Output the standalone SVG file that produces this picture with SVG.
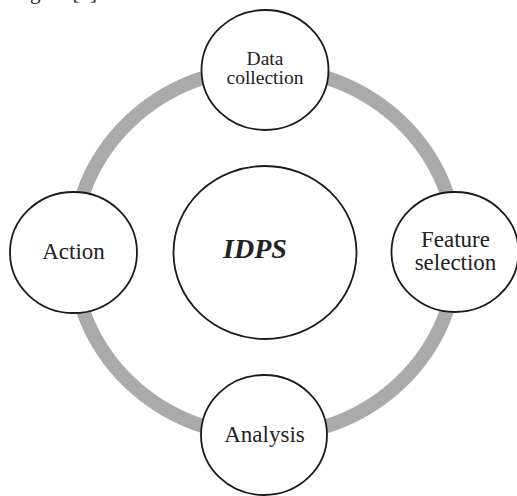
<svg xmlns="http://www.w3.org/2000/svg" width="517" height="496" viewBox="0 0 517 496">
<style>
.node{fill:#fff;stroke:#1a1a1a;stroke-width:1.8}
text{font-family:'Liberation Serif',serif;fill:#222}
.lbl{text-anchor:middle}
.ring{fill:none;stroke:#aaaaaa;stroke-width:14}
</style>
<rect width="517" height="496" fill="#fff"/>
<text x="12.5" y="-1" font-size="21">Figure [1]</text>
<g id="connectors">
<ellipse class="ring" cx="265" cy="252" rx="192" ry="184"/>
</g>
<g id="idps">
<ellipse class="node" cx="265" cy="252.5" rx="91.5" ry="86.5"/>
<text class="lbl" x="255" y="258" font-size="28" font-weight="bold" font-style="italic" fill="#111">IDPS</text>
</g>
<g id="data-collection">
<ellipse class="node" cx="265" cy="70" rx="63.5" ry="60"/>
<text class="lbl" x="265" y="65" font-size="19.5">Data</text>
<text class="lbl" x="265" y="84" font-size="19.5">collection</text>
</g>
<g id="feature-selection">
<ellipse class="node" cx="455" cy="252" rx="63.5" ry="60"/>
<text class="lbl" x="455.5" y="247" font-size="23">Feature</text>
<text class="lbl" x="455.5" y="270" font-size="23">selection</text>
</g>
<g id="analysis">
<ellipse class="node" cx="264" cy="435" rx="63" ry="60"/>
<text class="lbl" x="264.5" y="442" font-size="23">Analysis</text>
</g>
<g id="action">
<ellipse class="node" cx="73.5" cy="252.5" rx="63.5" ry="60.5"/>
<text class="lbl" x="73.5" y="259" font-size="23">Action</text>
</g>
</svg>
